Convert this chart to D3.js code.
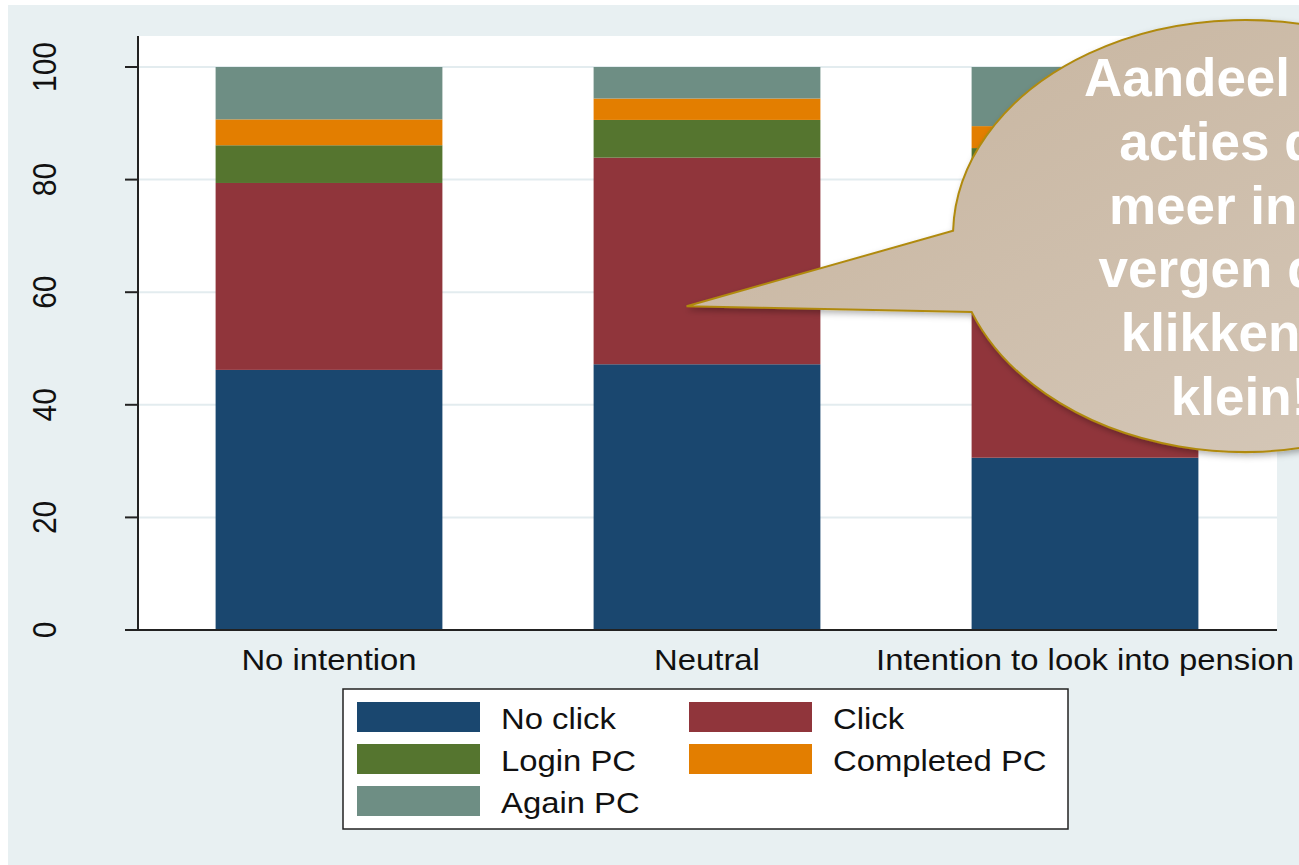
<!DOCTYPE html>
<html>
<head>
<meta charset="utf-8">
<script src="https://cdn.jsdelivr.net/npm/d3@7"></script>
<style>
  html, body { margin: 0; padding: 0; background: #ffffff; }
  svg { display: block; }
  text { font-family: "Liberation Sans", Arial, sans-serif; }
</style>
</head>
<body>
<svg id="chart" width="1299" height="865"></svg>
<script>
// ---- data ----
const categories = ["No intention", "Neutral", "Intention to look into pension"];
const seriesNames = ["No click", "Click", "Login PC", "Completed PC", "Again PC"];
const noClick     = [46.2, 47.2, 30.6];
const click       = [33.2, 36.7, 49.0];
const loginPC     = [6.7, 6.7, 6.0];
const completedPC = [4.6, 3.8, 3.9];
const againPC     = [9.3, 5.6, 10.5];
const yTicks = [0, 20, 40, 60, 80, 100];
const seriesColors = ["#1a476f", "#90353b", "#55752f", "#e37e00", "#6e8e84"];
const calloutLines = ["Aandeel van", "acties die", "meer inzet", "vergen dan", "klikken is", "klein!"];

const seriesValues = [noClick, click, loginPC, completedPC, againPC];
const rows = categories.map((c, i) => {
  const r = { category: c };
  seriesNames.forEach((s, j) => r[s] = seriesValues[j][i]);
  return r;
});

const svg = d3.select("#chart");
const W = 1299, H = 865;
const plot = { left: 138, right: 1277, top: 36, bottom: 630 };
const SX = 1.095; // horizontal text stretch

// backgrounds
svg.append("rect").attr("x", 0).attr("y", 0).attr("width", W).attr("height", H).attr("fill", "#ffffff");
svg.append("rect").attr("x", 8).attr("y", 5).attr("width", W - 8).attr("height", H - 5).attr("fill", "#e8f0f2");
svg.append("rect").attr("x", plot.left).attr("y", plot.top)
  .attr("width", plot.right - plot.left).attr("height", plot.bottom - plot.top).attr("fill", "#ffffff");

const x = d3.scaleBand().domain(categories).range([140, 1274]).paddingInner(0.4).paddingOuter(0.2);
const y = d3.scaleLinear().domain([0, 100]).range([630, 67]);

// gridlines
svg.append("g").selectAll("line").data(yTicks.filter(d => d > 0)).join("line")
  .attr("x1", plot.left).attr("x2", plot.right)
  .attr("y1", d => y(d)).attr("y2", d => y(d))
  .attr("stroke", "#e3ecef").attr("stroke-width", 2);

// stacked bars
const stack = d3.stack().keys(seriesNames)(rows);
const gBars = svg.append("g");
stack.forEach((layer, j) => {
  gBars.append("g").attr("fill", seriesColors[j])
    .selectAll("rect").data(layer).join("rect")
    .attr("x", d => x(d.data.category))
    .attr("width", x.bandwidth())
    .attr("y", d => y(d[1]))
    .attr("height", d => y(d[0]) - y(d[1]));
});

// y axis
const gy = svg.append("g");
gy.append("line").attr("x1", plot.left).attr("x2", plot.left).attr("y1", plot.top).attr("y2", plot.bottom + 1)
  .attr("stroke", "#222").attr("stroke-width", 2);
gy.selectAll("line.tick").data(yTicks).join("line").attr("class", "tick")
  .attr("x1", 125).attr("x2", plot.left).attr("y1", d => y(d)).attr("y2", d => y(d))
  .attr("stroke", "#222").attr("stroke-width", 2);
gy.selectAll("text").data(yTicks).join("text")
  .attr("transform", d => `translate(56,${y(d)}) rotate(-90) scale(1,${SX})`)
  .attr("text-anchor", "middle")
  .attr("font-size", 30).attr("fill", "#111")
  .text(d => d);

// x axis
svg.append("line").attr("x1", plot.left - 1).attr("x2", plot.right).attr("y1", plot.bottom).attr("y2", plot.bottom)
  .attr("stroke", "#222").attr("stroke-width", 2);
svg.append("g").selectAll("text").data(categories).join("text")
  .attr("transform", d => `translate(${x(d) + x.bandwidth() / 2},670) scale(${SX},1)`)
  .attr("text-anchor", "middle").attr("font-size", 30).attr("fill", "#111")
  .text(d => d);

// legend
const lg = svg.append("g");
lg.append("rect").attr("x", 343).attr("y", 689).attr("width", 725).attr("height", 140)
  .attr("fill", "#ffffff").attr("stroke", "#222").attr("stroke-width", 1.5);
const colX = [357, 689], rowY = [702, 744, 786];
seriesNames.forEach((s, i) => {
  const cx = colX[i % 2], cy = rowY[Math.floor(i / 2)];
  lg.append("rect").attr("x", cx).attr("y", cy).attr("width", 123).attr("height", 30).attr("fill", seriesColors[i]);
  lg.append("text").attr("transform", `translate(${cx + 144},${cy + 27}) scale(${SX},1)`)
    .attr("font-size", 30).attr("fill", "#111").text(s);
});

// callout bubble
const defs = svg.append("defs");
const grad = defs.append("linearGradient").attr("id", "bub").attr("x1", "0%").attr("y1", "0%").attr("x2", "100%").attr("y2", "100%");
grad.append("stop").attr("offset", "0%").attr("stop-color", "#c6b39d");
grad.append("stop").attr("offset", "100%").attr("stop-color", "#d6c9ba");
const f = defs.append("filter").attr("id", "shadow").attr("x", "-10%").attr("y", "-10%").attr("width", "130%").attr("height", "130%");
f.append("feDropShadow").attr("dx", 2).attr("dy", 3).attr("stdDeviation", 3).attr("flood-color", "#000").attr("flood-opacity", 0.3);

const ecx = 1245, ecy = 236, erx = 292, ery = 216;
const tip = [x("Neutral") + x.bandwidth() * 0.41, y(57.5)];
const a1 = Math.PI + 0.0245, a2 = Math.PI - 0.36;
const p1 = [ecx + erx * Math.cos(a1), ecy + ery * Math.sin(a1)];
const p2 = [ecx + erx * Math.cos(a2), ecy + ery * Math.sin(a2)];
const path = `M${tip[0]},${tip[1]} L${p1[0]},${p1[1]} A${erx},${ery} 0 1 1 ${p2[0]},${p2[1]} Z`;
svg.append("path").attr("d", path).attr("fill", "url(#bub)").attr("stroke", "#b08a10").attr("stroke-width", 2)
  .attr("filter", "url(#shadow)");
svg.append("g").selectAll("text").data(calloutLines).join("text")
  .attr("x", 1240).attr("y", (d, i) => 96 + i * 63.8)
  .attr("text-anchor", "middle").attr("font-size", 53).attr("font-weight", "bold").attr("fill", "#ffffff")
  .text(d => d);
</script>
</body>
</html>
